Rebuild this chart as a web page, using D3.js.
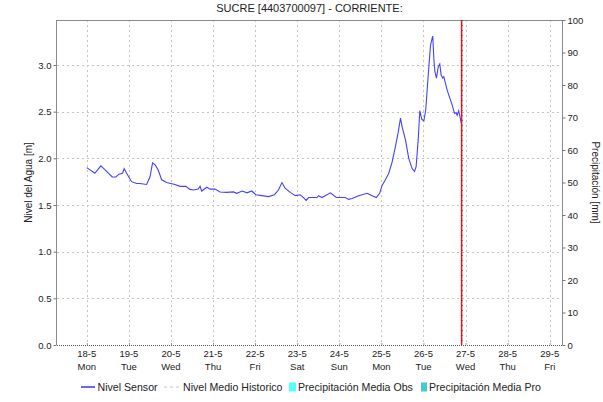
<!DOCTYPE html>
<html>
<head>
<meta charset="utf-8">
<script src="https://cdn.jsdelivr.net/npm/d3@7/dist/d3.min.js"></script>
<style>
  html, body { margin: 0; padding: 0; background: #fff; }
  svg text { font-family: "Liberation Sans", Arial, sans-serif; fill: #222; }
</style>
</head>
<body>
<svg id="chart" width="603" height="402"></svg>
<script>
// Hours after 18-5 00:00 for each sensor reading
const hours = [0, 4.6, 8, 10.3, 14.5, 16.6, 18.3, 20.4, 21.3, 22.7, 25.5, 28.4, 30.3, 34.1, 36, 37.5, 39, 40.7,
  42.7, 45.5, 50.3, 53.1, 56.6, 58.5, 60.7, 63.6, 64.6, 65.5, 68.4, 70.3, 73.1, 76, 79.8, 83.6, 85.5, 88.7,
  91.3, 94.1, 96.4, 99.8, 103.6, 107, 109.3, 111.3, 113.1, 116, 118.9, 121.7, 123.6, 125.1, 126.5, 131.3,
  132.2, 134.1, 138.9, 142.3, 143.6, 147.4, 149.3, 151.3, 155, 159.8, 162.7, 165.1, 167, 168.4, 170.3, 172.2,
  174.1, 176, 177.5, 178.9, 179.8, 181.7, 183.6, 185.5, 186.9, 187.8, 189, 189.9, 191, 192.2, 193.3, 194.7,
  196, 197, 197.3, 197.9, 198.5, 199.4, 200.4, 201.3, 202.1, 203, 203.6, 205.5, 206.4, 208.4, 209.7, 210.6,
  211.2, 212.1, 213.6];
// Water level (m) at each reading
const levels = [1.90, 1.84, 1.92, 1.88, 1.80, 1.80, 1.83, 1.84, 1.89, 1.84, 1.75, 1.73, 1.73, 1.72, 1.80, 1.95, 1.93, 1.875,
  1.77, 1.74, 1.72, 1.70, 1.70, 1.67, 1.66, 1.67, 1.70, 1.65, 1.69, 1.67, 1.67, 1.64, 1.635, 1.64, 1.625, 1.65,
  1.63, 1.65, 1.61, 1.60, 1.59, 1.61, 1.66, 1.74, 1.68, 1.635, 1.60, 1.61, 1.58, 1.55, 1.58, 1.58,
  1.60, 1.58, 1.63, 1.58, 1.58, 1.58, 1.56, 1.57, 1.60, 1.625, 1.60, 1.58, 1.625, 1.71, 1.77, 1.84,
  1.96, 2.125, 2.27, 2.43, 2.34, 2.20, 2.00, 1.89, 1.86, 1.91, 2.20, 2.51, 2.42, 2.40, 2.52, 2.89,
  3.21, 3.29, 3.31, 3.07, 2.93, 2.86, 2.98, 3.01, 2.89, 2.86, 2.875, 2.73, 2.68, 2.57, 2.48, 2.49,
  2.46, 2.51, 2.375];

const dayLabels = ["18-5", "19-5", "20-5", "21-5", "22-5", "23-5", "24-5", "25-5", "26-5", "27-5", "28-5", "29-5"];
const weekdayLabels = ["Mon", "Tue", "Wed", "Thu", "Fri", "Sat", "Sun", "Mon", "Tue", "Wed", "Thu", "Fri"];
const levelTicks = [0, 0.5, 1.0, 1.5, 2.0, 2.5, 3.0];
const rainTicks = [0, 10, 20, 30, 40, 50, 60, 70, 80, 90, 100];

const title = "SUCRE [4403700097] - CORRIENTE:";
const legendItems = ["Nivel Sensor", "Nivel Medio Historico", "Precipitación Media Obs", "Precipitación Media Pro"];

const firstDay = new Date(2020, 4, 18);
const HOUR = 3600e3;
const viewStart = new Date(firstDay.getTime() - 17 * HOUR);
const viewEnd = new Date(firstDay.getTime() + 271 * HOUR);
const nowTime = new Date(firstDay.getTime() + 213.75 * HOUR);

const series = hours.map((h, i) => ({ t: new Date(firstDay.getTime() + h * HOUR), v: levels[i] }));
const dayTicks = dayLabels.map((_, i) => d3.timeDay.offset(firstDay, i));

const m = { left: 57, right: 562, top: 20, bottom: 345 };
const svg = d3.select("#chart");

const x = d3.scaleTime().domain([viewStart, viewEnd]).range([m.left, m.right]);
const y = d3.scaleLinear().domain([0, 3.482]).range([m.bottom, m.top]);
const y2 = d3.scaleLinear().domain([0, 100]).range([m.bottom, m.top]);

// title
svg.append("text").attr("x", (m.left + m.right) / 2).attr("y", 12)
  .attr("text-anchor", "middle").style("font-size", "11px").text(title);

// grid
const grid = svg.append("g").attr("stroke", "#c4c4c4").attr("stroke-dasharray", "2,3").attr("stroke-width", 1);
grid.selectAll(".gx").data(dayTicks).join("line")
  .attr("x1", d => Math.round(x(d)) + 0.5).attr("x2", d => Math.round(x(d)) + 0.5)
  .attr("y1", m.top).attr("y2", m.bottom);
grid.selectAll(".gy").data(levelTicks.filter(d => d > 0)).join("line")
  .attr("x1", m.left).attr("x2", m.right)
  .attr("y1", d => Math.round(y(d)) + 0.5).attr("y2", d => Math.round(y(d)) + 0.5);

// frame
svg.append("line").attr("x1", m.left).attr("x2", m.right).attr("y1", m.top + 0.5).attr("y2", m.top + 0.5)
  .attr("stroke", "#8a8a8a");
svg.append("line").attr("x1", m.left - 0.5).attr("x2", m.left - 0.5).attr("y1", m.top).attr("y2", m.bottom)
  .attr("stroke", "#8a8a8a");
svg.append("line").attr("x1", m.right + 0.5).attr("x2", m.right + 0.5).attr("y1", m.top).attr("y2", m.bottom)
  .attr("stroke", "#8a8a8a");
svg.append("line").attr("x1", m.left).attr("x2", m.right).attr("y1", m.bottom + 0.5).attr("y2", m.bottom + 0.5)
  .attr("stroke", "#555").attr("stroke-dasharray", "1,1");

// left axis
const axL = svg.append("g").attr("transform", `translate(${m.left - 0.5},0)`)
  .call(d3.axisLeft(y).tickValues(levelTicks).tickFormat(d3.format(".1f")).tickSize(3).tickPadding(2));
axL.select(".domain").remove();
axL.selectAll(".tick line").attr("stroke", "#777");
axL.selectAll("text").style("font-size", "9.5px").attr("fill", "#222");

// right axis
const axR = svg.append("g").attr("transform", `translate(${m.right + 0.5},0)`)
  .call(d3.axisRight(y2).tickValues(rainTicks).tickSize(3).tickPadding(2));
axR.select(".domain").remove();
axR.selectAll(".tick line").attr("stroke", "#777");
axR.selectAll("text").style("font-size", "9.5px").attr("fill", "#222");

// bottom axis: date and weekday
const axB = svg.append("g").attr("transform", `translate(0,${m.bottom})`)
  .call(d3.axisBottom(x).tickValues(dayTicks).tickSize(-2).tickFormat(() => ""));
axB.select(".domain").remove();
axB.selectAll(".tick line").attr("stroke", "#999");
const xl = svg.append("g").style("font-size", "9.5px").attr("text-anchor", "middle");
xl.selectAll(".d").data(dayTicks).join("text").attr("x", d => x(d)).attr("y", 357)
  .text((d, i) => dayLabels[i]);
xl.selectAll(".w").data(dayTicks).join("text").attr("x", d => x(d)).attr("y", 370)
  .text((d, i) => weekdayLabels[i]);

// axis titles
svg.append("text").attr("transform", `translate(32,${(m.top + m.bottom) / 2}) rotate(-90)`)
  .attr("text-anchor", "middle").style("font-size", "10px").text("Nivel del Agua [m]");
svg.append("text").attr("transform", `translate(592,${(m.top + m.bottom) / 2}) rotate(90)`)
  .attr("text-anchor", "middle").style("font-size", "10px").text("Precipitación [mm]");

// sensor level line
svg.append("path").datum(series)
  .attr("fill", "none").attr("stroke", "#4242ff").attr("stroke-width", 1.1)
  .attr("d", d3.line().x(d => x(d.t)).y(d => y(d.v)));

// current time marker
svg.append("line").attr("x1", x(nowTime)).attr("x2", x(nowTime)).attr("y1", m.top).attr("y2", m.bottom)
  .attr("stroke", "#e01818").attr("stroke-width", 1.5);
svg.append("line").attr("x1", x(nowTime) + 0.5).attr("x2", x(nowTime) + 0.5).attr("y1", m.top).attr("y2", m.bottom)
  .attr("stroke", "#8a0000").attr("stroke-width", 0.8).attr("stroke-dasharray", "1,4");

// legend
const lg = svg.append("g").style("font-size", "10.6px");
const ly = 387;
lg.append("line").attr("x1", 81).attr("x2", 95).attr("y1", ly).attr("y2", ly).attr("stroke", "#1515ff").attr("stroke-width", 1.3);
lg.append("text").attr("x", 97.5).attr("y", ly + 3.8).text(legendItems[0]);
lg.append("line").attr("x1", 164).attr("x2", 179).attr("y1", ly).attr("y2", ly).attr("stroke", "#c4c4c4").attr("stroke-dasharray", "3,3");
lg.append("text").attr("x", 183).attr("y", ly + 3.8).text(legendItems[1]);
lg.append("rect").attr("x", 289).attr("y", ly - 4.5).attr("width", 7).attr("height", 9).attr("fill", "#55ffff");
lg.append("text").attr("x", 298).attr("y", ly + 3.8).text(legendItems[2]);
lg.append("rect").attr("x", 421).attr("y", ly - 4.5).attr("width", 6).attr("height", 9).attr("fill", "#3fcccc");
lg.append("text").attr("x", 429).attr("y", ly + 3.8).text(legendItems[3]);
</script>
</body>
</html>
